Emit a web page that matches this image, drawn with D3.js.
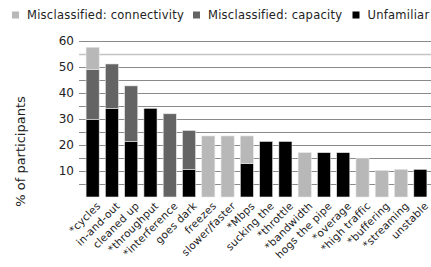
<!DOCTYPE html>
<html><head><meta charset="utf-8">
<script src="https://cdn.jsdelivr.net/npm/d3@7"></script>
<style>body{margin:0;background:#fff}svg{display:block}text{font-family:"DejaVu Sans",Verdana,sans-serif;fill:#222}</style>
</head><body><svg id="c" width="431" height="267"></svg>
<script>
const categories = ["*cycles","in-and-out","cleaned up","*throughput","*interference","goes dark","freezes","slower/faster","*Mbps","sucking the","*throttle","*bandwidth","hogs the pipe","*overage","*high traffic","*buffering","*streaming","unstable"];
const unfamiliar   = [29.8,34.0,21.3,34.0,0,10.6,0,0,12.8,21.3,21.3,0,17.0,17.0,0,0,0,10.6];
const capacity     = [19.1,17.0,21.3,0,31.9,14.9,0,0,0,0,0,0,0,0,0,0,0,0];
const connectivity = [8.5,0,0,0,0,0,23.4,23.4,10.6,0,0,17.0,0,0,14.9,10.2,10.6,0];
const seriesNames = ["Misclassified: connectivity","Misclassified: capacity","Unfamiliar"];
const yTicks = [10,20,30,40,50,60];
const gridTicks = [5,10,15,20,25,30,35,40,45,50,55,60];

const colors = {"Unfamiliar":"#000000","Misclassified: capacity":"#646464","Misclassified: connectivity":"#b8b8b8"};
const svg = d3.select("#c");
const x = d3.scaleBand().domain(categories).range([83,430]).paddingInner(0.32).paddingOuter(0.16);
const y = d3.scaleLinear().domain([0,60]).range([197,40.5]);

// gridlines
svg.append("g").selectAll("line").data(gridTicks).join("line")
  .attr("x1",79).attr("x2",431)
  .attr("y1",d=>Math.round(y(d))+0.5).attr("y2",d=>Math.round(y(d))+0.5)
  .attr("stroke",d=>d===55?"#c4c4c4":"#8a8a8a").attr("stroke-width",d=>d===55?1.6:1);

// y labels
svg.append("g").selectAll("text").data(yTicks).join("text")
  .attr("x",74).attr("y",d=>y(d)).attr("dy","0.36em").attr("text-anchor","end")
  .style("font-size","12px").text(d=>d);

// stacks
const rows = categories.map((c,i)=>({cat:c,"Unfamiliar":unfamiliar[i],"Misclassified: capacity":capacity[i],"Misclassified: connectivity":connectivity[i]}));
const stack = d3.stack().keys(["Unfamiliar","Misclassified: capacity","Misclassified: connectivity"]);
const layers = stack(rows);
svg.append("g").selectAll("g").data(layers).join("g")
  .attr("fill",d=>colors[d.key])
  .selectAll("rect").data(d=>d.filter(s=>s[1]-s[0]>0)).join("rect")
  .attr("x",d=>x(d.data.cat)).attr("width",x.bandwidth())
  .attr("y",d=>y(d[1])).attr("height",d=>y(d[0])-y(d[1]))
  .attr("stroke","#e6e6e6").attr("stroke-width",0.6);

// x labels
svg.append("g").selectAll("text").data(categories).join("text")
  .attr("transform",d=>`translate(${x(d)+x.bandwidth()/2+6},${204}) rotate(-45)`)
  .attr("text-anchor","end").attr("dy","0.35em")
  .style("font-size","10.5px").style("letter-spacing","0.2px").text(d=>d);

// y title
svg.append("text").attr("transform","translate(20,151.5) rotate(-90)")
  .attr("text-anchor","middle").attr("dy","0.35em").style("font-size","13px").text("% of participants");

// legend
const legX = [12,193,352.5];
const lg = svg.append("g").selectAll("g").data(seriesNames).join("g")
  .attr("transform",(d,i)=>`translate(${legX[i]},15)`);
lg.append("rect").attr("x",0).attr("y",-3.5).attr("width",7).attr("height",7).attr("fill",d=>colors[d]);
lg.append("text").attr("x",15).attr("dy","0.36em").style("font-size","11.5px").style("letter-spacing","0.25px").text(d=>d);
</script></body></html>
